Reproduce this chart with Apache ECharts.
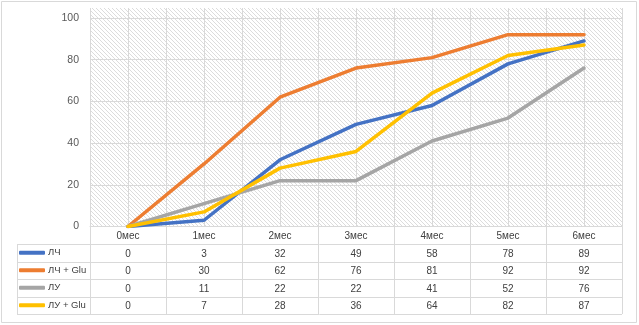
<!DOCTYPE html>
<html>
<head>
<meta charset="utf-8">
<style>
  html, body { margin: 0; padding: 0; background: #fff; }
  #chart { position: absolute; left: 0; top: 0; width: 639px; height: 325px; }
</style>
<script src="https://cdn.jsdelivr.net/npm/echarts@6/dist/echarts.min.js"></script>
</head>
<body>
<div id="chart"></div>
<script>
const months = ['0мес', '1мес', '2мес', '3мес', '4мес', '5мес', '6мес'];
const seriesNames = ['ЛЧ', 'ЛЧ + Glu', 'ЛУ', 'ЛУ + Glu'];
const lch = [0, 3, 32, 49, 58, 78, 89];
const lchGlu = [0, 30, 62, 76, 81, 92, 92];
const lu = [0, 11, 22, 22, 41, 52, 76];
const luGlu = [0, 7, 28, 36, 64, 82, 87];
const yTicks = [0, 20, 40, 60, 80, 100];

const allValues = [lch, lchGlu, lu, luGlu];
const colors = ['#4472C4', '#ED7D31', '#A5A5A5', '#FFC000'];
const font = 'Liberation Sans';

// plot area / table geometry (px)
const plotLeft = 90, plotRight = 622, plotTop = 18, hatchTop = 8, axisY = 226.5;
const rowH = 17.5;
const tableTop = axisY, tableBottom = axisY + rowH * 5;

// diagonal hatch for the plot background
const hatch = document.createElement('canvas');
hatch.width = 4; hatch.height = 4;
const hctx = hatch.getContext('2d');
hctx.fillStyle = '#fff';
hctx.fillRect(0, 0, 4, 4);
hctx.fillStyle = '#dcdcdc';
for (let i = 0; i < 4; i++) hctx.fillRect(i, i, 1, 1);

const myChart = echarts.init(document.getElementById('chart'), null, { renderer: 'canvas' });

const tableLines = [];
for (let r = 1; r <= 5; r++) {
  const y = Math.round(tableTop + rowH * r) + 0.5;
  tableLines.push({
    type: 'line', silent: true,
    shape: { x1: 17, y1: y, x2: plotRight, y2: y },
    style: { stroke: '#d9d9d9', lineWidth: 1 }
  });
}
tableLines.push({
  type: 'line', silent: true,
  shape: { x1: 17.5, y1: Math.round(tableTop + rowH) + 0.5, x2: 17.5, y2: Math.round(tableBottom) + 0.5 },
  style: { stroke: '#d9d9d9', lineWidth: 1 }
});
tableLines.push({
  type: 'rect', silent: true,
  shape: { x: 1.5, y: 1.5, width: 635, height: 321 },
  style: { fill: 'none', stroke: '#d9d9d9', lineWidth: 1 }
});

myChart.setOption({
  animation: false,
  textStyle: { fontFamily: font },
  grid: [
    { left: plotLeft, right: 639 - plotRight, top: plotTop, bottom: 325 - axisY },
    {
      left: plotLeft, right: 639 - plotRight, top: hatchTop, bottom: 325 - axisY,
      show: true, borderWidth: 0,
      backgroundColor: { image: hatch, repeat: 'repeat' }
    }
  ],
  legend: {
    orient: 'vertical',
    left: 19,
    top: tableTop + rowH,
    padding: 0,
    itemGap: 0,
    itemWidth: 26,
    itemHeight: 4,
    icon: 'roundRect',
    data: seriesNames,
    textStyle: { fontSize: 9.5, color: '#404040', lineHeight: rowH, fontFamily: font, padding: [0, 0, 0, -2] }
  },
  xAxis: [
    {
      type: 'category',
      gridIndex: 0,
      data: months,
      boundaryGap: true,
      axisLine: { show: true, lineStyle: { color: '#d9d9d9', width: 1 } },
      axisTick: { show: true, length: rowH * 5, lineStyle: { color: '#d9d9d9' } },
      splitLine: { show: false },
      axisLabel: {
        margin: 1,
        interval: 0,
        formatter: (val, idx) => {
          let s = '{h|' + val + '}';
          allValues.forEach(arr => { s += '\n{v|' + arr[idx] + '}'; });
          return s;
        },
        rich: {
          h: { fontSize: 10, color: '#404040', lineHeight: rowH, fontFamily: font },
          v: { fontSize: 10, color: '#404040', lineHeight: rowH, fontFamily: font }
        }
      }
    },
    {
      // half-column grid lines behind the plot
      type: 'category',
      gridIndex: 1,
      data: Array(months.length * 2).fill(''),
      boundaryGap: true,
      axisLine: { show: false },
      axisTick: { show: false },
      axisLabel: { show: false },
      splitLine: { show: true, interval: 0, lineStyle: { color: '#d9d9d9', width: 1 } }
    }
  ],
  yAxis: [
    {
      type: 'value',
      gridIndex: 0,
      min: yTicks[0],
      max: yTicks[yTicks.length - 1],
      interval: yTicks[1] - yTicks[0],
      axisLine: { show: false },
      axisTick: { show: false },
      axisLabel: { margin: 11, fontSize: 10.5, color: '#595959', fontFamily: font },
      splitLine: { show: true, lineStyle: { color: '#d9d9d9', width: 1 } }
    },
    {
      type: 'value',
      gridIndex: 1,
      show: false,
      splitLine: { show: false }
    }
  ],
  series: seriesNames.map((name, i) => ({
    name: name,
    type: 'line',
    xAxisIndex: 0,
    yAxisIndex: 0,
    data: allValues[i],
    symbol: 'none',
    smooth: false,
    z: 3,
    itemStyle: { color: colors[i] },
    lineStyle: { color: colors[i], width: 3.5, cap: 'round', join: 'round' }
  })),
  graphic: tableLines
});
</script>
</body>
</html>
